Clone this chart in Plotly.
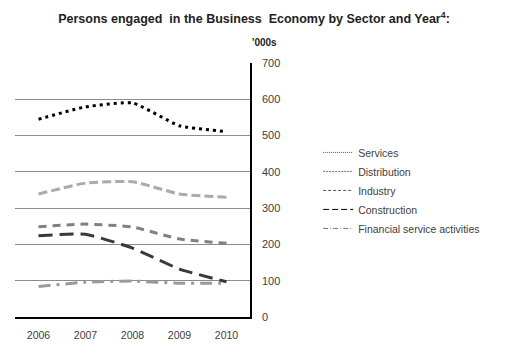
import plotly.graph_objects as go

years = ["2006", "2007", "2008", "2009", "2010"]
services = [545, 579, 590, 527, 511]
distribution = [339, 369, 373, 339, 330]
industry = [249, 256, 248, 215, 203]
construction = [224, 228, 190, 132, 97]
financial = [84, 96, 99, 93, 93]
y_ticks = [0, 100, 200, 300, 400, 500, 600, 700]

series = [
    ("Services", services, "#000000", "3px,4px"),
    ("Distribution", distribution, "#ababab", "9px,4px"),
    ("Industry", industry, "#808080", "8px,6px"),
    ("Construction", construction, "#3a3a3a", "14px,7px"),
    ("Financial service activities", financial, "#9a9a9a", "12px,6px,3px,6px"),
]

fig = go.Figure()
for name, vals, col, dash in series:
    fig.add_trace(go.Scatter(
        x=years, y=vals, mode="lines", name=name, showlegend=False,
        line=dict(color=col, width=3, dash=dash, shape="spline", smoothing=0.45),
    ))
legend_dash = ["1px,1px", "2px,1px", "3px,2px", "6px,3px", "5px,2px,1px,2px"]
legend_col = ["#555555", "#777777", "#555555", "#000000", "#777777"]
for (name, vals, col, dash), ld, lc in zip(series, legend_dash, legend_col):
    fig.add_trace(go.Scatter(
        x=[None], y=[None], mode="lines", name=name, showlegend=True,
        line=dict(color=lc, width=1, dash=ld),
    ))

fig.update_layout(
    width=508, height=354,
    margin=dict(l=15, r=258, t=63, b=37),
    paper_bgcolor="white", plot_bgcolor="white",
    font=dict(family="Liberation Sans, Arial, sans-serif", size=11, color="#404040"),
    title=dict(
        text="<b>Persons engaged  in the Business  Economy by Sector and Year<sup>4</sup>:</b>",
        x=0.5, xanchor="center", xref="container", y=1 - 19 / 354, yanchor="middle",
        font=dict(size=12.5, color="#222222"),
    ),
    showlegend=True,
    legend=dict(
        x=1.29, xanchor="left", y=0.705, yanchor="top",
        font=dict(size=10.5, color="#404040"),
        bgcolor="rgba(0,0,0,0)", tracegroupgap=0, itemwidth=30,
    ),
    annotations=[dict(
        text="<b>'000s</b>", xref="paper", yref="paper", x=1.06, y=1 + 20 / 254,
        xanchor="center", yanchor="middle", showarrow=False,
        font=dict(size=10, color="#222222"),
    )],
)
fig.update_xaxes(
    type="category", range=[-0.5, 4.5], showgrid=False,
    showline=True, linecolor="#000000", linewidth=1.5,
    ticks="", tickfont=dict(size=10.5, color="#404040"), ticklabelstandoff=8,
)
fig.update_yaxes(
    side="right", range=[0, 700], tickvals=y_ticks,
    showgrid=True, gridcolor="#8c8c8c", gridwidth=1,
    showline=True, linecolor="#000000", linewidth=1.5, mirror=False,
    zeroline=False, ticks="", tickfont=dict(size=11, color="#404040"),
    ticklabelstandoff=8,
)
fig.write_html("out.html")
